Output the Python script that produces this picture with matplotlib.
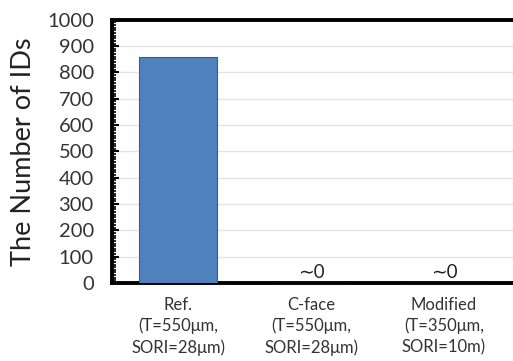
import matplotlib.pyplot as plt
from matplotlib.ticker import MultipleLocator

categories = ['Ref.\n(T=550\u03bcm,\nSORI=28\u03bcm)',
              'C-face\n(T=550\u03bcm,\nSORI=28\u03bcm)',
              'Modified\n(T=350\u03bcm,\nSORI=10m)']
counts = [860, 0, 0]
notes = ['', '\u223c0', '\u223c0']

plt.rcParams['font.family'] = ['Lato', 'DejaVu Sans']

fig = plt.figure(figsize=(5.13, 3.61), dpi=100)
ax = fig.add_axes([0.218, 0.216, 0.79, 0.729])

x = list(range(len(categories)))
ax.bar(x, counts, width=0.59, color='#4F81BD', edgecolor='#385D8A', linewidth=0.8, zorder=3)
for xi, n in zip(x, notes):
    if n:
        ax.text(xi, 8, n, ha='center', va='bottom', fontsize=13.5, color='#222222')

ax.set_xlim(-0.5, 2.55)
ax.set_ylim(0, 1000)
ax.yaxis.set_major_locator(MultipleLocator(100))
ax.yaxis.set_minor_locator(MultipleLocator(10))
ax.set_xticks(x)
ax.set_xticklabels(categories, fontsize=12, color='#333333', linespacing=1.35)
ax.tick_params(axis='x', length=0, pad=10)
ax.tick_params(axis='y', which='major', direction='in', length=5, width=1.5, labelsize=14.5, labelcolor='#333333', pad=13)
ax.tick_params(axis='y', which='minor', direction='in', length=3, width=1.2)
ax.grid(axis='y', color='#e3e3e3', linewidth=1, zorder=0)
ax.set_axisbelow(True)

for s in ['top', 'left', 'bottom']:
    ax.spines[s].set_linewidth(2.8)
    ax.spines[s].set_color('black')
ax.spines['right'].set_visible(False)

ax.set_ylabel('The Number of IDs', fontsize=19.5, color='#222222', labelpad=8)

fig.savefig('out.png', dpi=100)
